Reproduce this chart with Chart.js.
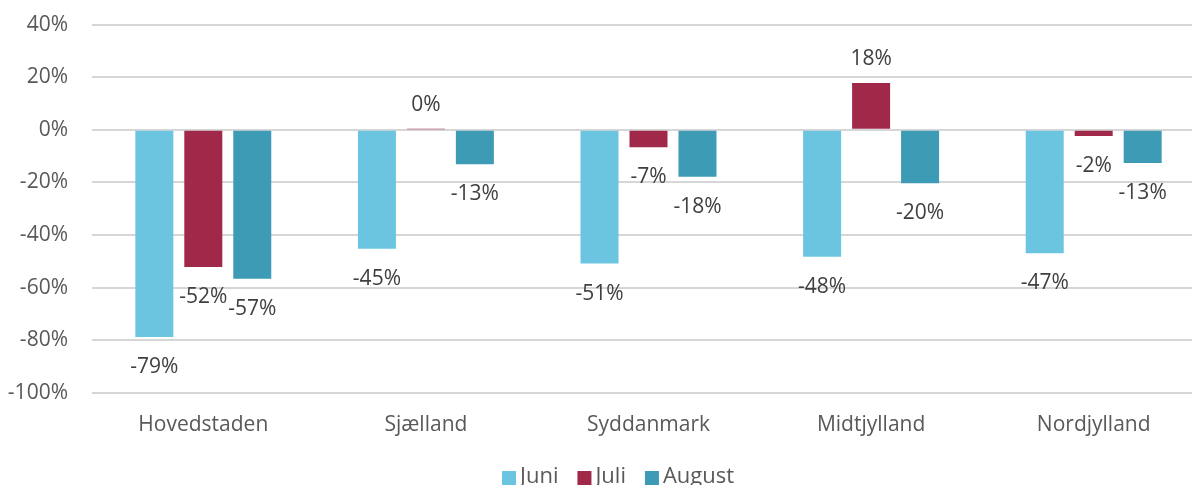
<!DOCTYPE html>
<html>
<head>
<meta charset="utf-8">
<script src="https://cdn.jsdelivr.net/npm/chart.js@4/dist/chart.umd.min.js"></script>
<style>
html,body{margin:0;padding:0;background:#fff;overflow:hidden;width:1192px;height:485px;}
#wrap{position:relative;width:1205px;height:510px;margin-top:-12px;}
</style>
</head>
<body>
<div id="wrap"><canvas id="c"></canvas></div>
<script>
const categories = ["Hovedstaden", "Sjælland", "Syddanmark", "Midtjylland", "Nordjylland"];
const seriesNames = ["Juni", "Juli", "August"];
const juni = [-78.7, -45.2, -50.8, -48.2, -46.9];
const juli = [-52.1, 0.2, -6.6, 17.8, -2.3];
const august = [-56.6, -13.1, -17.8, -20.3, -12.6];
const seriesColors = ["#6CC5E0", "#A0294A", "#3E9BB5"];
const yTicks = [40, 20, 0, -20, -40, -60, -80, -100];

const FONT = '"Open Sans"';

const labelPlugin = {
  id: 'valLabels',
  afterDatasetsDraw(chart) {
    const ctx = chart.ctx;
    ctx.save();
    ctx.font = '21px ' + FONT;
    ctx.fillStyle = '#404040';
    ctx.textAlign = 'center';
    ctx.textBaseline = 'middle';
    chart.data.datasets.forEach((ds, i) => {
      const meta = chart.getDatasetMeta(i);
      meta.data.forEach((bar, j) => {
        const v = ds.data[j];
        const txt = Math.round(v) + '%';
        const y = v >= 0 ? bar.y - 24 : bar.y + 30;
        ctx.fillText(txt, bar.x, y);
      });
    });
    ctx.restore();
  }
};

// simple legend drawn from the dataset labels/colours
const legendPlugin = {
  id: 'customLegend',
  afterDraw(chart) {
    const ctx = chart.ctx;
    ctx.save();
    ctx.font = '22px ' + FONT;
    ctx.textAlign = 'left';
    ctx.textBaseline = 'middle';
    let x = 502;
    const yMid = 489;
    chart.data.datasets.forEach(ds => {
      ctx.fillStyle = ds.backgroundColor;
      ctx.fillRect(x, 483, 14, 15);
      ctx.fillStyle = '#595959';
      ctx.fillText(ds.label, x + 18, yMid);
      x += 18 + ctx.measureText(ds.label).width + 19;
    });
    ctx.restore();
  }
};

new Chart(document.getElementById('c'), {
  type: 'bar',
  data: {
    labels: categories,
    datasets: [
      { label: seriesNames[0], data: juni, backgroundColor: seriesColors[0] },
      { label: seriesNames[1], data: juli, backgroundColor: seriesColors[1] },
      { label: seriesNames[2], data: august, backgroundColor: seriesColors[2] }
    ]
  },
  options: {
    responsive: true,
    maintainAspectRatio: false,
    animation: false,
    categoryPercentage: 0.66,
    barPercentage: 0.776,
    layout: { padding: { top: 0, left: 0, right: 0, bottom: 55 } },
    plugins: {
      legend: { display: false },
      tooltip: { enabled: false }
    },
    scales: {
      x: {
        afterFit(s) { s.height = 50; },
        grid: { display: false },
        border: { display: false },
        ticks: { color: '#595959', font: { family: FONT, size: 21 }, padding: 11 }
      },
      y: {
        min: -100, max: 40,
        afterFit(s) { s.width = 92; },
        afterBuildTicks(s) { s.ticks = yTicks.map(v => ({ value: v })); },
        grid: { color: '#D6D6D6', lineWidth: 2, drawTicks: false },
        border: { display: false },
        ticks: {
          color: '#595959', font: { family: FONT, size: 21 }, padding: 24,
          callback: v => v + '%'
        }
      }
    }
  },
  plugins: [labelPlugin, legendPlugin]
});
</script>
</body>
</html>
